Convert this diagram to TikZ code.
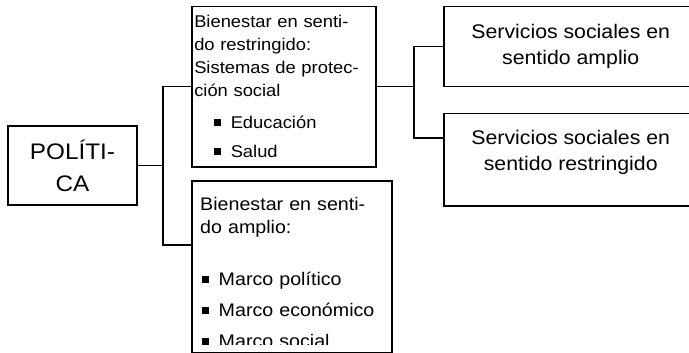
\documentclass[tikz,border=0pt]{standalone}
\usepackage{fontspec}
\setmainfont{Liberation Sans}[FakeStretch=1.08]
\usetikzlibrary{positioning}
\newcommand{\punto}[2]{\hspace*{#1}\rule[2.5pt]{7pt}{7pt}\hspace{10pt}#2}

\begin{document}
\begin{tikzpicture}[x=1pt, y=-1pt,
    caja/.style={draw, line width=1.5pt, inner sep=0pt},
    linea/.style={line width=1.5pt}]
    \useasboundingbox (0,0) rectangle (689,353);
    % caja principal
    \node[caja, minimum width=129, minimum height=79, align=center,
      font=\fontsize{22.5}{32}\selectfont] (pol) at (72.5,165.5) {POLÍTI-\\CA};

    % cajas del medio
    \node[caja, anchor=north west, minimum width=184, minimum height=160,
      text width=179, inner xsep=2.5, align=left,
      font=\fontsize{17}{23}\selectfont] (restr) at (191,6) {%
      \makebox[\linewidth][s]{Bienestar en senti-}\\
      do restringido:\\
      \makebox[\linewidth][s]{Sistemas de protec-}\\
      ción social\\[9pt]
      \punto{19.5pt}{Educación}\\[6pt]
      \punto{19.5pt}{Salud}};
    \node[caja, anchor=north west, minimum width=200, minimum height=172] (ampl) at (191,180) {};
    \begin{scope}
      \clip (ampl.north west) rectangle ([shift={(0,-9)}]ampl.south east);
      \node[anchor=north west, text width=180, inner sep=0pt, align=left,
        font=\fontsize{18.2}{23}\selectfont] (amplTxt) at ([shift={(9,17)}]ampl.north west) {%
        \makebox[\linewidth][s]{Bienestar en senti-}\\
        do amplio:\\[29pt]
        \punto{1.5pt}{Marco político}\\[8pt]
        \punto{1.5pt}{Marco económico}\\[8pt]
        \punto{1.5pt}{Marco social}};
    \end{scope}

    % cajas de la derecha
    \node[caja, anchor=north west, minimum width=254, minimum height=80, align=center,
      font=\fontsize{19.7}{26}\selectfont] (srvA) at (443,6) {Servicios sociales en\\sentido amplio};
    \node[caja, anchor=north west, minimum width=254, minimum height=92, align=center,
      font=\fontsize{19.7}{26}\selectfont] (srvR) at (443,113) {Servicios sociales en\\sentido restringido\\[-8pt]\mbox{}};

    % conectores
    \coordinate (tr1) at (163,245);
    \coordinate (tr2) at (414,138);
    \draw[linea] (pol.east) -- (pol.east -| tr1);
    \draw[linea] (restr.west) -| (tr1) -- (tr1 -| ampl.west);
    \draw[linea] (restr.east) -- (restr.east -| tr2);
    \draw[linea] (srvA.west) -| (tr2) -- (tr2 -| srvR.west);
\end{tikzpicture}
\end{document}
